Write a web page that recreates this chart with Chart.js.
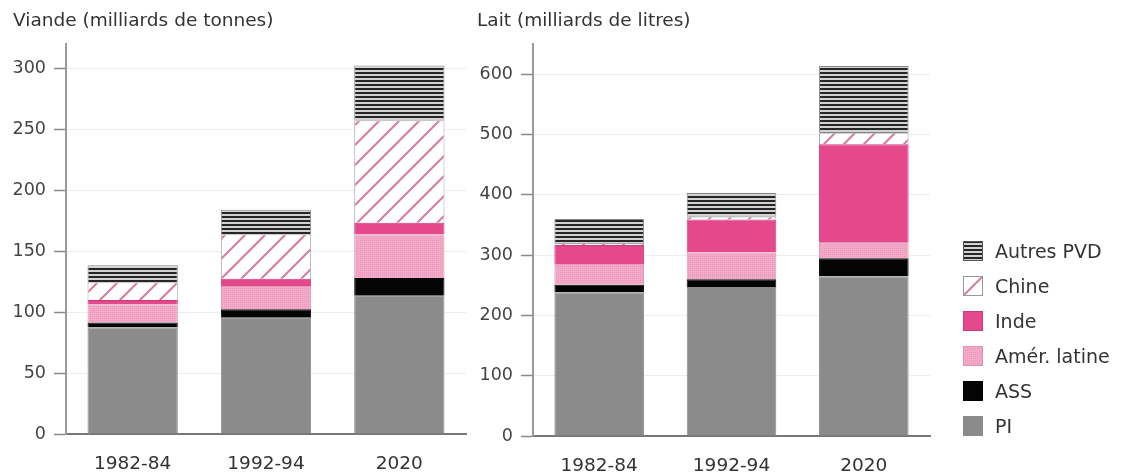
<!DOCTYPE html>
<html lang="fr">
<head>
<meta charset="utf-8">
<title>Viande et lait</title>
<script src="https://cdn.jsdelivr.net/npm/chart.js@4.4.1/dist/chart.umd.min.js"></script>
<style>
  html, body { margin: 0; padding: 0; background: #fff; }
  #page { position: relative; width: 1123px; height: 475px; overflow: hidden; font-family: "DejaVu Sans", sans-serif; }
  #viande { position: absolute; left: 0; top: 0; }
  #lait { position: absolute; left: 468px; top: 0; }
  #legende { position: absolute; left: 963px; top: 233px; }
  .row { height: 35px; display: flex; align-items: center; }
  .row canvas { width: 20px; height: 20px; margin-right: 12px; display: block; }
  .row span { font-size: 19px; color: #333; white-space: nowrap; }
</style>
</head>
<body>
<div id="page">
  <canvas id="viande" width="470" height="475"></canvas>
  <canvas id="lait" width="470" height="475"></canvas>
  <div id="legende"></div>
</div>
<script>
// Periods on the x axis
const categories = ['1982-84', '1992-94', '2020'];

// Regions, stacked from bottom to top
const seriesNames = ['PI', 'ASS', 'Amér. latine', 'Inde', 'Chine', 'Autres PVD'];

// Viande (milliards de tonnes)
const viandePI     = [87.5, 95.5, 113.5];
const viandeASS    = [4, 7, 14.5];
const viandeAmLat  = [15, 19, 36];
const viandeInde   = [3.5, 6, 9.5];
const viandeChine  = [14.5, 36.5, 84];
const viandeAutres = [14, 20, 45];

// Lait (milliards de litres)
const laitPI     = [238, 247, 264.5];
const laitASS    = [13, 13, 30.5];
const laitAmLat  = [33, 44.5, 27];
const laitInde   = [33, 54.5, 162];
const laitChine  = [3, 5, 19];
const laitAutres = [40, 39.5, 111];

const FONT = '"DejaVu Sans", sans-serif';

// --- fills: solid colours and small repeating tiles ---
function tile(w, h, paint) {
  const c = document.createElement('canvas');
  c.width = w; c.height = h;
  paint(c.getContext('2d'), w, h);
  return c;
}
const patCtx = document.createElement('canvas').getContext('2d');

const fillAmLat = patCtx.createPattern(tile(2, 2, g => {
  g.fillStyle = '#f4aac8'; g.fillRect(0, 0, 2, 2);
  g.fillStyle = '#e797b9'; g.fillRect(0, 0, 1, 1);
}), 'repeat');

const fillChine = patCtx.createPattern(tile(20, 20, g => {
  g.fillStyle = '#ffffff'; g.fillRect(0, 0, 20, 20);
  g.strokeStyle = '#d37ca4'; g.lineWidth = 2;
  g.beginPath();
  g.moveTo(-2, 22); g.lineTo(22, -2);
  g.moveTo(-12, 12); g.lineTo(12, -12);
  g.moveTo(8, 32); g.lineTo(32, 8);
  g.stroke();
}), 'repeat');

const fillAutres = patCtx.createPattern(tile(4, 4, g => {
  g.fillStyle = '#d2d2d2'; g.fillRect(0, 0, 4, 4);
  g.fillStyle = '#262626'; g.fillRect(0, 0, 4, 2);
}), 'repeat');

const fills   = ['#8b8b8b', '#050505', fillAmLat, '#e5488b', fillChine, fillAutres];
const borders = ['#8b8b8b', '#000000', '#dc95b4', '#c83c79', '#a9a9a9', '#8a8a8a'];

function makeChart(id, title, series, yMax, yStep, geo) {
  return new Chart(document.getElementById(id), {
    type: 'bar',
    data: {
      labels: categories,
      datasets: series.map((values, i) => ({
        label: seriesNames[i],
        data: values,
        backgroundColor: fills[i],
        borderColor: borders[i],
        borderWidth: 1,
        barPercentage: 0.677,
        categoryPercentage: 1,
        stack: 'total'
      }))
    },
    options: {
      responsive: false,
      animation: false,
      devicePixelRatio: 1,
      layout: { padding: { left: geo.padLeft, right: geo.padRight, top: 0, bottom: 0 } },
      plugins: {
        legend: { display: false },
        tooltip: { enabled: false },
        title: {
          display: true,
          text: title,
          align: 'start',
          color: '#333',
          font: { family: FONT, size: 18.5, weight: 'normal' },
          padding: { top: 10, bottom: 12 }
        }
      },
      scales: {
        x: {
          stacked: true,
          grid: { display: false },
          border: { display: true, color: '#777', width: 2 },
          ticks: { color: '#333', font: { family: FONT, size: 18.5 }, padding: 11 },
          afterFit: s => { s.height = geo.xHeight; }
        },
        y: {
          stacked: true,
          min: 0,
          max: yMax,
          ticks: {
            stepSize: yStep,
            includeBounds: false,
            color: '#444',
            font: { family: FONT, size: 17.5 },
            padding: 8
          },
          afterBuildTicks: ax => { ax.ticks = ax.ticks.filter(t => t.value % yStep === 0); },
          grid: { color: '#ececec', lineWidth: 1, tickLength: 12, tickColor: '#8a8a8a', tickWidth: 1.5 },
          border: { display: true, color: '#9a9a9a', width: 2 },
          afterFit: s => { s.width = geo.yWidth; }
        }
      }
    }
  });
}

makeChart('viande', 'Viande (milliards de tonnes)',
  [viandePI, viandeASS, viandeAmLat, viandeInde, viandeChine, viandeAutres],
  320, 50, { padLeft: 13, padRight: 4, yWidth: 53, xHeight: 41 });

makeChart('lait', 'Lait (milliards de litres)',
  [laitPI, laitASS, laitAmLat, laitInde, laitChine, laitAutres],
  650, 100, { padLeft: 9, padRight: 8, yWidth: 56, xHeight: 39 });

// Legend, top entry = top of the stack
const legend = document.getElementById('legende');
for (let i = seriesNames.length - 1; i >= 0; i--) {
  const row = document.createElement('div');
  row.className = 'row';
  const sw = document.createElement('canvas');
  sw.width = 20; sw.height = 20;
  const g = sw.getContext('2d');
  g.fillStyle = fills[i];
  g.fillRect(0, 0, 20, 20);
  g.strokeStyle = i === 4 ? '#999' : (i === 5 ? '#555' : borders[i]);
  g.lineWidth = 1;
  g.strokeRect(0.5, 0.5, 19, 19);
  const label = document.createElement('span');
  label.textContent = seriesNames[i];
  row.appendChild(sw);
  row.appendChild(label);
  legend.appendChild(row);
}
</script>
</body>
</html>
